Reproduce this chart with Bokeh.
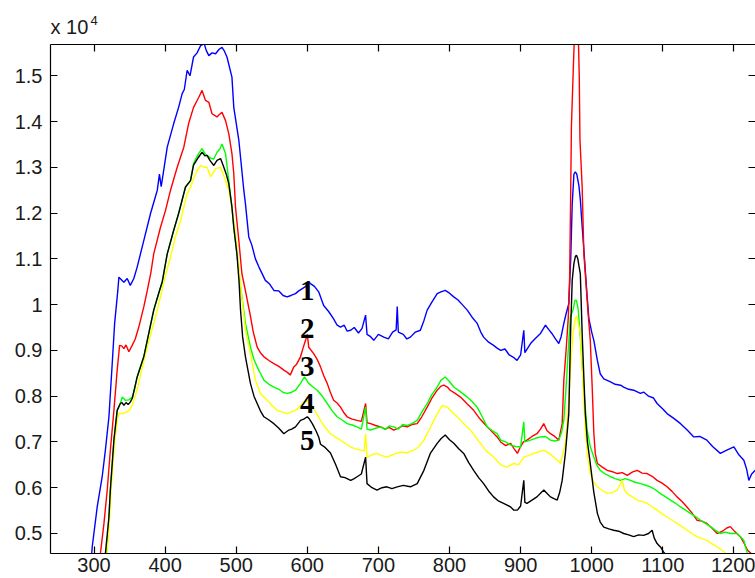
from bokeh.plotting import figure
from bokeh.models import Range1d, FixedTicker, LinearAxis, Title, CustomJSTickFormatter
from bokeh.core.properties import value
from bokeh.embed import file_html
from bokeh.resources import INLINE

# ---------------- data (intensity in units of 10^4) ----------------
x_ticks = [300, 400, 500, 600, 700, 800, 900, 1000, 1100, 1200]
y_ticks = [0.5, 0.6, 0.7, 0.8, 0.9, 1.0, 1.1, 1.2, 1.3, 1.4, 1.5]
exponent_text = "4"

blue_x = [296, 297.5, 304.5, 311.5, 316, 321, 325.6, 329, 333.5, 335, 342, 346.7, 351, 356, 360.7, 370, 379.5, 389, 392, 394.5,
          403, 412, 419, 424, 427, 431, 435, 440, 445, 450, 455, 458, 461.5, 466, 471, 476, 480, 483, 487, 494, 496.6, 503.7,
          510.7, 513, 517.7, 522, 527, 532, 541, 547, 553, 560, 566, 571.7, 577, 583.4, 588, 593, 598, 601, 604.5, 610, 616,
          623, 630, 637, 642, 646.7, 652, 656, 661, 666, 672, 677, 682, 684, 689, 693.5, 700, 707.6, 714, 720, 725, 726.5, 728,
          735, 740, 745, 752, 759, 764, 768.6, 775, 782.7, 788, 794, 800, 806, 812, 818, 825, 832, 839, 844, 848, 855, 862, 867,
          872, 878, 884, 890, 895, 900, 904.5, 906, 910, 914, 920, 928, 935, 940, 944, 949, 953.7, 957, 960.8, 964, 967.8, 970.5,
          972.6, 975, 977, 979, 982, 984, 986.6, 989, 991, 993.5, 996, 1000, 1003, 1008, 1012, 1017, 1026.5, 1033, 1040.5, 1045,
          1052, 1059, 1068.6, 1073, 1080, 1087, 1092, 1100, 1106, 1115, 1125, 1135, 1143.6, 1152, 1162, 1170, 1181, 1190, 1200,
          1207, 1214, 1218, 1221, 1225, 1230]
blue_y = [0.440, 0.471, 0.558, 0.624, 0.682, 0.755, 0.871, 0.959, 1.031, 1.060, 1.049, 1.057, 1.042, 1.057, 1.082, 1.140, 1.199,
          1.250, 1.285, 1.258, 1.344, 1.395, 1.431, 1.461, 1.470, 1.512, 1.500, 1.541, 1.550, 1.566, 1.570, 1.555, 1.544, 1.550,
          1.548, 1.558, 1.562, 1.555, 1.541, 1.497, 1.431, 1.359, 1.250, 1.220, 1.148, 1.130, 1.100, 1.082, 1.053, 1.045, 1.031,
          1.030, 1.020, 1.017, 1.020, 1.024, 1.030, 1.035, 1.040, 1.050, 1.046, 1.040, 1.028, 0.998, 0.985, 0.969, 0.955, 0.951,
          0.955, 0.942, 0.944, 0.950, 0.938, 0.948, 0.977, 0.935, 0.930, 0.922, 0.935, 0.929, 0.925, 0.940, 0.945, 0.996, 0.940,
          0.935, 0.925, 0.929, 0.940, 0.944, 0.965, 0.988, 1.005, 1.024, 1.028, 1.031, 1.025, 1.017, 1.010, 1.000, 0.988, 0.972,
          0.959, 0.940, 0.929, 0.918, 0.911, 0.905, 0.900, 0.903, 0.890, 0.885, 0.878, 0.890, 0.944, 0.895, 0.905, 0.915, 0.925,
          0.937, 0.955, 0.945, 0.937, 0.925, 0.915, 0.930, 0.959, 0.980, 1.002, 1.100, 1.220, 1.285, 1.290, 1.285, 1.260, 1.230,
          1.170, 1.120, 1.075, 1.020, 0.970, 0.940, 0.922, 0.878, 0.849, 0.838, 0.831, 0.826, 0.824, 0.820, 0.815, 0.813, 0.806,
          0.809, 0.800, 0.796, 0.784, 0.772, 0.762, 0.752, 0.740, 0.725, 0.711, 0.712, 0.704, 0.690, 0.675, 0.682, 0.689, 0.672,
          0.660, 0.640, 0.616, 0.630, 0.638]

red_x = [307, 309, 314, 318.6, 323, 328, 332.6, 336, 339, 342, 345, 349, 353.7, 358, 363, 370, 375, 380, 384, 393.5, 400.6,
         407.6, 417, 426.3, 433, 440, 447.4, 452, 456.8, 461.5, 466, 473, 476, 480, 485, 489.6, 494, 496.6, 499, 503.7, 508, 513,
         520, 524, 529.5, 534, 539, 546, 553, 560, 567, 572, 576, 581, 585, 590.4, 594, 597.5, 600, 602, 609, 614, 618.6, 623, 628,
         632, 637, 642, 646.7, 651, 656, 663, 670, 676, 682, 684, 689, 696, 703, 710, 715, 721.7, 728, 734, 740.5, 747, 754.6, 761,
         768.6, 775, 782.7, 788, 792, 797, 801, 808, 815.5, 825, 834, 843, 853, 860, 867, 872, 879, 886, 891, 895.5, 900, 904, 909,
         916, 923, 928, 932.6, 937, 942, 948, 953.7, 958.5, 960.8, 964, 967, 969, 970.5, 971.5, 974, 976, 978.5, 981, 982.5, 983.5,
         986.6, 989, 992.7, 995, 998, 1000.7, 1003, 1005, 1008, 1015, 1022, 1029, 1036, 1043, 1050, 1057, 1064, 1071, 1078, 1085,
         1092, 1099, 1106, 1113, 1120, 1127, 1134, 1141, 1148, 1155, 1162, 1169, 1176.5, 1184, 1190, 1195, 1202, 1209, 1214, 1219,
         1225, 1230]
red_y = [0.440, 0.456, 0.522, 0.595, 0.682, 0.769, 0.857, 0.911, 0.910, 0.904, 0.912, 0.897, 0.911, 0.925, 0.951, 0.995, 1.031,
         1.070, 1.111, 1.169, 1.206, 1.250, 1.300, 1.344, 1.395, 1.431, 1.453, 1.468, 1.446, 1.442, 1.417, 1.410, 1.415, 1.420,
         1.402, 1.373, 1.330, 1.286, 1.213, 1.140, 1.068, 1.030, 0.975, 0.940, 0.907, 0.895, 0.886, 0.878, 0.871, 0.865, 0.857,
         0.852, 0.846, 0.864, 0.870, 0.886, 0.905, 0.922, 0.935, 0.907, 0.893, 0.880, 0.864, 0.845, 0.828, 0.810, 0.791, 0.785,
         0.776, 0.765, 0.755, 0.750, 0.747, 0.745, 0.784, 0.742, 0.740, 0.736, 0.733, 0.728, 0.732, 0.726, 0.730, 0.735, 0.733,
         0.738, 0.740, 0.755, 0.776, 0.795, 0.813, 0.822, 0.824, 0.820, 0.813, 0.806, 0.798, 0.783, 0.769, 0.750, 0.733, 0.722,
         0.711, 0.700, 0.692, 0.697, 0.685, 0.675, 0.690, 0.700, 0.704, 0.712, 0.718, 0.728, 0.740, 0.725, 0.718, 0.712, 0.704,
         0.740, 0.835, 0.900, 0.970, 1.060, 1.250, 1.390, 1.510, 1.600, 1.650, 1.600, 1.500, 1.360, 1.257, 1.111, 1.031, 0.980,
         0.922, 0.820, 0.720, 0.675, 0.653, 0.645, 0.638, 0.635, 0.631, 0.633, 0.627, 0.634, 0.638, 0.632, 0.631, 0.625, 0.616,
         0.610, 0.602, 0.592, 0.580, 0.570, 0.558, 0.545, 0.529, 0.527, 0.522, 0.512, 0.500, 0.505, 0.512, 0.515, 0.503, 0.493,
         0.480, 0.464, 0.455, 0.450]

green_x = [315.5, 317.6, 321, 323, 328, 332.6, 337, 339.7, 344, 349, 353.7, 357, 360.7, 370, 377, 384, 391, 396, 403, 412, 419,
           428.7, 435.7, 440, 447, 452, 456, 459, 464, 468.5, 473, 477, 480, 485, 489.6, 494, 496.6, 501, 506, 509.5, 513, 520,
           525, 529.5, 534, 539, 546, 553, 560, 566, 571.7, 577, 583.4, 590.4, 596, 599, 602, 608, 614, 621, 628, 635, 642, 649,
           656, 663, 670, 676, 682, 684, 689, 696, 703, 710, 715, 721.7, 728, 734, 740.5, 747, 754.6, 761, 768.6, 775, 782.7, 788,
           794, 800, 806, 815, 825, 832, 839, 846, 853, 860, 867, 872, 879, 886, 893, 900, 904.5, 906, 914, 921, 928, 935, 942, 948,
           953.7, 957.5, 960.8, 964, 967, 970, 974, 976.5, 978.6, 981, 984, 986.5, 989, 993.6, 998, 1003, 1007, 1012, 1019, 1026.5,
           1033, 1040.5, 1047, 1054.6, 1061, 1068.6, 1075, 1082.7, 1090, 1096.7, 1104, 1110.8, 1118, 1125, 1132, 1139, 1146, 1153,
           1160, 1167, 1174, 1181, 1188, 1195, 1204.6, 1210, 1214, 1219, 1223]
green_y = [0.440, 0.456, 0.536, 0.595, 0.704, 0.769, 0.784, 0.798, 0.791, 0.792, 0.798, 0.815, 0.842, 0.886, 0.937, 0.988, 1.025,
           1.050, 1.111, 1.162, 1.199, 1.257, 1.271, 1.308, 1.330, 1.341, 1.330, 1.326, 1.320, 1.318, 1.333, 1.340, 1.351, 1.330,
           1.270, 1.213, 1.169, 1.111, 1.040, 1.000, 0.959, 0.907, 0.880, 0.864, 0.850, 0.835, 0.826, 0.820, 0.815, 0.808, 0.806,
           0.808, 0.813, 0.828, 0.842, 0.835, 0.828, 0.820, 0.813, 0.800, 0.784, 0.768, 0.755, 0.748, 0.740, 0.737, 0.733, 0.728,
           0.776, 0.728, 0.726, 0.730, 0.733, 0.727, 0.735, 0.733, 0.728, 0.738, 0.736, 0.740, 0.747, 0.765, 0.784, 0.803, 0.820,
           0.835, 0.842, 0.832, 0.820, 0.810, 0.798, 0.788, 0.776, 0.755, 0.733, 0.725, 0.718, 0.704, 0.700, 0.693, 0.690, 0.689,
           0.744, 0.700, 0.704, 0.708, 0.711, 0.712, 0.704, 0.702, 0.704, 0.720, 0.747, 0.820, 0.900, 0.973, 0.990, 1.010, 1.009,
           0.990, 0.930, 0.870, 0.813, 0.726, 0.690, 0.667, 0.650, 0.638, 0.630, 0.624, 0.620, 0.616, 0.620, 0.616, 0.612, 0.609,
           0.606, 0.602, 0.595, 0.587, 0.580, 0.573, 0.566, 0.558, 0.551, 0.544, 0.537, 0.529, 0.522, 0.515, 0.507, 0.500, 0.503,
           0.500, 0.500, 0.492, 0.485, 0.456, 0.440]

yellow_x = [317, 319, 322, 324, 329, 333, 335, 340, 346.7, 350, 353.7, 360, 368, 377, 386.5, 393.5, 400, 407.6, 414, 421.7, 431,
            435.7, 440, 445, 450, 455, 459, 464, 471, 478, 485, 489.6, 494, 499, 503.7, 508, 513, 520, 527, 534, 543.6, 550, 557.7,
            565, 571.7, 577, 583.4, 588, 593, 600, 607, 612, 618.6, 625, 632.6, 640, 646.7, 654, 661, 668, 675, 680, 682, 684, 691,
            698, 705, 712, 720, 726, 731, 740, 750, 757, 764, 771, 778, 785, 790, 797, 804, 811, 820, 829.5, 836, 843.6, 852, 862,
            872, 881, 890.5, 897, 904.5, 911, 918.6, 925, 932.6, 940, 946.7, 952, 956, 963, 967.8, 971, 974, 977, 979, 981, 984, 987,
            991, 994, 998, 1003, 1008, 1015, 1022, 1029, 1036, 1043, 1046, 1050, 1057, 1064, 1071, 1078, 1085, 1092, 1099, 1106,
            1113, 1120, 1127, 1134, 1141, 1148, 1155, 1162, 1169, 1176.5, 1182, 1186, 1192, 1198]
yellow_y = [0.440, 0.470, 0.536, 0.595, 0.700, 0.750, 0.762, 0.762, 0.766, 0.770, 0.780, 0.810, 0.864, 0.920, 0.973, 1.017, 1.060,
            1.104, 1.145, 1.184, 1.242, 1.257, 1.275, 1.293, 1.304, 1.300, 1.300, 1.279, 1.297, 1.300, 1.271, 1.250, 1.213, 1.155,
            1.082, 1.017, 0.944, 0.893, 0.835, 0.806, 0.791, 0.780, 0.769, 0.765, 0.762, 0.765, 0.769, 0.775, 0.784, 0.791, 0.776,
            0.765, 0.747, 0.732, 0.718, 0.710, 0.704, 0.696, 0.689, 0.685, 0.682, 0.680, 0.718, 0.667, 0.672, 0.675, 0.670, 0.667,
            0.672, 0.675, 0.678, 0.676, 0.682, 0.690, 0.704, 0.725, 0.747, 0.768, 0.780, 0.776, 0.765, 0.755, 0.740, 0.726, 0.712,
            0.697, 0.680, 0.667, 0.650, 0.645, 0.653, 0.650, 0.667, 0.670, 0.675, 0.678, 0.682, 0.675, 0.667, 0.660, 0.653, 0.697,
            0.791, 0.880, 0.940, 0.970, 0.975, 0.960, 0.937, 0.850, 0.726, 0.670, 0.631, 0.612, 0.602, 0.594, 0.587, 0.590, 0.595,
            0.616, 0.595, 0.587, 0.580, 0.573, 0.570, 0.566, 0.558, 0.551, 0.543, 0.536, 0.529, 0.522, 0.515, 0.507, 0.500, 0.493,
            0.489, 0.485, 0.478, 0.471, 0.465, 0.460, 0.450, 0.440]

black_x = [314, 316, 321, 323, 328, 332.6, 337, 339.5, 342, 345, 348, 351, 354, 360.7, 370, 377, 384, 391, 396, 403, 412, 419,
           428.7, 435.7, 440, 447, 452, 456, 459, 463, 468.5, 473, 478, 482.6, 486, 489.6, 494, 496.6, 501, 504, 506, 509, 513, 520,
           525, 529.5, 534, 539, 546, 553, 560, 567, 574, 578, 583.4, 590.4, 595, 600, 603, 607, 612, 616, 618.6, 625, 632.6, 640,
           646.7, 653, 661, 666, 670, 676, 682, 684, 691, 698, 705, 712, 719, 726.5, 735, 745, 754.6, 764, 773, 782.7, 788, 794, 800,
           806, 813, 820, 827, 834, 841, 848, 855, 862, 868, 876, 881, 886, 890.5, 895.5, 900, 904.5, 906, 909, 916, 923, 928, 932.6,
           937, 942, 947, 951.5, 955, 958.5, 963, 967.8, 970.5, 972.6, 975, 977, 978.6, 980.5, 982, 984, 986.6, 989, 991, 994, 998,
           1003, 1008, 1012, 1017, 1024, 1031, 1038, 1045, 1052, 1059, 1066, 1073, 1080, 1085, 1088, 1092, 1097, 1101, 1106, 1112]
black_y = [0.440, 0.456, 0.536, 0.595, 0.704, 0.769, 0.784, 0.786, 0.780, 0.786, 0.782, 0.787, 0.796, 0.842, 0.886, 0.937, 0.988,
           1.025, 1.050, 1.111, 1.162, 1.199, 1.257, 1.271, 1.305, 1.322, 1.333, 1.325, 1.326, 1.315, 1.304, 1.315, 1.319, 1.300,
           1.285, 1.264, 1.213, 1.169, 1.111, 1.050, 0.990, 0.930, 0.886, 0.828, 0.800, 0.784, 0.768, 0.755, 0.748, 0.740, 0.730,
           0.718, 0.726, 0.728, 0.733, 0.747, 0.750, 0.755, 0.750, 0.740, 0.725, 0.711, 0.695, 0.688, 0.676, 0.650, 0.624, 0.622,
           0.616, 0.620, 0.624, 0.630, 0.667, 0.609, 0.600, 0.595, 0.600, 0.602, 0.598, 0.602, 0.605, 0.602, 0.609, 0.638, 0.675,
           0.697, 0.707, 0.715, 0.705, 0.697, 0.685, 0.675, 0.655, 0.638, 0.622, 0.609, 0.593, 0.580, 0.572, 0.566, 0.562, 0.558,
           0.551, 0.551, 0.560, 0.616, 0.568, 0.566, 0.573, 0.580, 0.588, 0.595, 0.588, 0.580, 0.576, 0.573, 0.590, 0.616, 0.675,
           0.762, 0.950, 1.053, 1.090, 1.105, 1.108, 1.100, 1.085, 1.068, 0.937, 0.840, 0.762, 0.700, 0.653, 0.590, 0.544, 0.525,
           0.514, 0.510, 0.507, 0.505, 0.500, 0.497, 0.493, 0.497, 0.496, 0.500, 0.507, 0.490, 0.478, 0.470, 0.460, 0.450, 0.440]

label_text = ["1", "2", "3", "4", "5"]
label_x = [600, 600, 600, 600, 600]
label_y = [1.031, 0.948, 0.864, 0.785, 0.704]

# ---------------- figure ----------------
p = figure(width=755, height=578, output_backend="svg", toolbar_location=None,
           x_range=Range1d(238.8, 1230.4), y_range=Range1d(0.4563, 1.5683),
           x_axis_location=None, y_axis_location=None,
           min_border_left=50, min_border_right=0, min_border_top=44, min_border_bottom=25)
p.xgrid.visible = False
p.ygrid.visible = False
p.outline_line_color = None
p.background_fill_color = "white"
p.border_fill_color = "white"

FONT = "Liberation Sans"


def make_axis(ticks, show_labels, standoff=6, line=True):
    ax = LinearAxis(ticker=FixedTicker(ticks=ticks, minor_ticks=[]),
                    major_tick_in=7, major_tick_out=0,
                    minor_tick_line_color=None,
                    axis_line_color="black" if line else None,
                    axis_line_width=1.2, major_tick_line_color="black", major_tick_line_width=1.2)
    if show_labels:
        ax.major_label_text_font = FONT
        ax.major_label_text_font_size = "20px"
        ax.major_label_text_color = "#1a1a1a"
        ax.major_label_standoff = standoff
    else:
        ax.formatter = CustomJSTickFormatter(code="return '';")
        ax.major_label_text_font_size = "0px"
        ax.major_label_standoff = 0
    return ax


xb = make_axis(x_ticks, True, standoff=4)
yl = make_axis(y_ticks, True, standoff=8)
yl.formatter = CustomJSTickFormatter(code="return (Math.round(tick*10)/10).toString();")
xt = make_axis(x_ticks, False)
yr = make_axis(y_ticks, False, line=False)
p.add_layout(xb, "below")
p.add_layout(yl, "left")
p.add_layout(xt, "above")
p.add_layout(yr, "right")

series = [(blue_x, blue_y, "#0000FF"), (red_x, red_y, "#FF0000"), (green_x, green_y, "#00FF00"),
          (yellow_x, yellow_y, "#FFFF00"), (black_x, black_y, "#000000")]
for xs, ys, c in series:
    p.line(xs, ys, line_color=c, line_width=1.4)

p.text(x=label_x, y=label_y, text=label_text, text_font=value("Liberation Serif"), text_font_style="bold",
       text_font_size="29px", text_align="center", text_baseline="middle", text_color="black")

# axis multiplier "x 10^4": base as a title above the frame ...
p.add_layout(Title(text="x 10", align="left", offset=0, standoff=13, text_font=FONT,
                   text_font_size="20px", text_font_style="normal", text_color="#1a1a1a"), "above")
# ... and the exponent as the single label of an invisible outer axis, at the first x tick
exp_axis = LinearAxis(ticker=FixedTicker(ticks=[x_ticks[0]], minor_ticks=[]),
                      major_tick_in=0, major_tick_out=0, axis_line_color=None,
                      major_tick_line_color=None, minor_tick_line_color=None,
                      major_label_overrides={x_ticks[0]: exponent_text},
                      major_label_text_font=FONT, major_label_text_font_size="13px",
                      major_label_text_color="#1a1a1a", major_label_standoff=-17)
p.add_layout(exp_axis, "above")

open("out.html", "w").write(file_html(p, INLINE))
